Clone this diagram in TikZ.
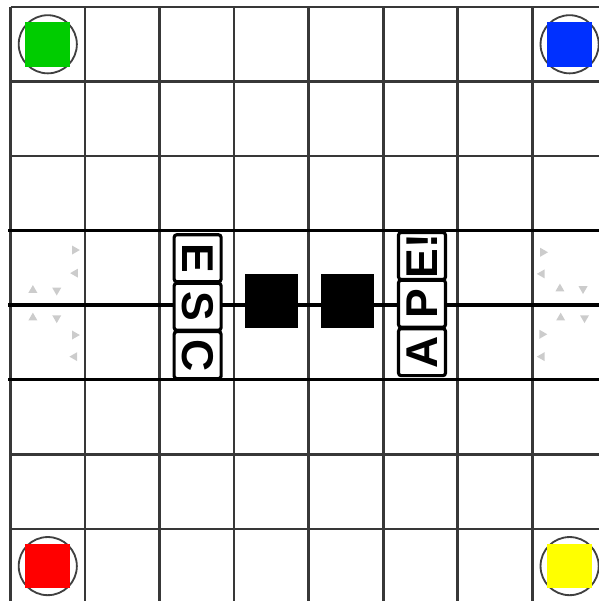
\documentclass[tikz,border=0pt]{standalone}
\usepackage{fontspec}
\setmainfont{Liberation Sans}
\usetikzlibrary{shapes.geometric}
\definecolor{padgreen}{RGB}{0,204,0}
\definecolor{padblue}{RGB}{0,48,255}
\definecolor{padred}{RGB}{255,0,0}
\definecolor{padyellow}{RGB}{255,255,0}
\tikzset{
  gridline/.style={line width=1pt, draw=black!78},
  bandline/.style={line width=1.3pt, draw=black},
  homering/.style={draw=black!75, line width=0.7pt, circle, minimum size=0.78cm, inner sep=0pt},
  homepad/.style={minimum size=0.6cm, inner sep=0pt},
  block/.style={fill=black, minimum size=0.72cm, inner sep=0pt},
  tile/.style={draw, fill=white, line width=1.2pt, rounded corners=1pt, minimum size=0.63cm, inner sep=0pt, font=\fontsize{17}{18}\selectfont\bfseries},
  hint/.style={regular polygon, regular polygon sides=3, fill=black!20, inner sep=0pt, minimum size=0.14cm},
  hintup/.style={hint},
  hintdown/.style={hint, shape border rotate=180},
  hintright/.style={hint, shape border rotate=-90},
  hintleft/.style={hint, shape border rotate=90}
}
\begin{document}
\begin{tikzpicture}
  \useasboundingbox (-0.141,0.094) rectangle (7.894,-7.968);
  % board
  \draw[gridline] (0,0) grid (8,-8);
  \foreach \r in {3,4,5}
    \draw[bandline] (-0.03,-\r) -- (8,-\r);

  % home corners
  \node[homering] (ringg) at (0.5,-0.5) {};
  \node[homepad, fill=padgreen] (padg) at (ringg) {};
  \node[homering] (ringb) at (7.5,-0.5) {};
  \node[homepad, fill=padblue] (padb) at (ringb) {};
  \node[homering] (ringr) at (0.5,-7.5) {};
  \node[homepad, fill=padred] (padr) at (ringr) {};
  \node[homering] (ringy) at (7.5,-7.5) {};
  \node[homepad, fill=padyellow] (pady) at (ringy) {};

  % blocks in the middle
  \node[block] (blockl) at (3.5,-3.94) {};
  \node[block] (blockr) at (4.52,-3.94) {};

  % letter tiles
  \node[tile, rotate=-90] (esce) at (2.51,-3.37) {E};
  \node[tile, rotate=-90] (escs) at (2.51,-4.02) {S};
  \node[tile, rotate=-90] (escc) at (2.51,-4.67) {C};
  \node[tile, rotate=90] (apea) at (5.52,-4.63) {A};
  \node[tile, rotate=90] (apep) at (5.52,-3.98) {P};
  \node[tile, rotate=90] (apee) at (5.52,-3.34) {E!};

  % faint arrow hints, left side
  \node[hintright] (lr1) at (0.86,-3.26) {};
  \node[hintleft] (ll1) at (0.87,-3.57) {};
  \node[hintup] (lu1) at (0.30,-3.80) {};
  \node[hintdown] (ld1) at (0.62,-3.80) {};
  \node[hintup] (lu2) at (0.30,-4.17) {};
  \node[hintdown] (ld2) at (0.62,-4.17) {};
  \node[hintright] (lr2) at (0.86,-4.40) {};
  \node[hintleft] (ll2) at (0.86,-4.69) {};

  % faint arrow hints, right side
  \node[hintright] (rr1) at (7.14,-3.29) {};
  \node[hintleft] (rl1) at (7.13,-3.58) {};
  \node[hintup] (ru1) at (7.37,-3.78) {};
  \node[hintdown] (rd1) at (7.68,-3.78) {};
  \node[hintup] (ru2) at (7.38,-4.17) {};
  \node[hintdown] (rd2) at (7.70,-4.17) {};
  \node[hintright] (rr2) at (7.13,-4.39) {};
  \node[hintleft] (rl2) at (7.13,-4.69) {};
\end{tikzpicture}
\end{document}
